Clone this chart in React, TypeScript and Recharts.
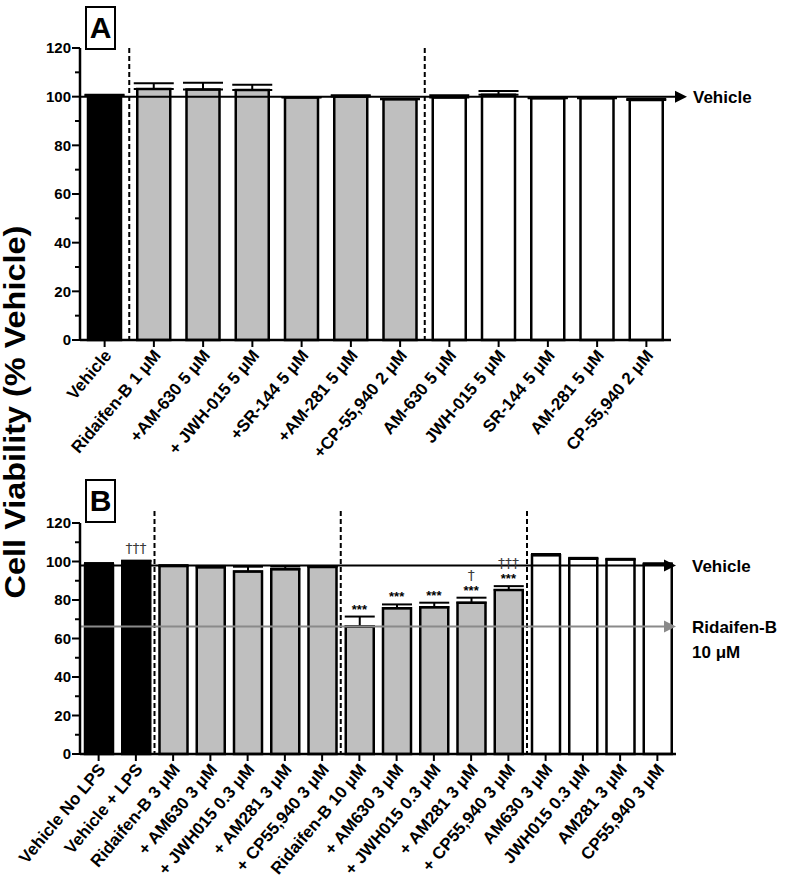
import React from 'react';
import { BarChart, Bar, XAxis, YAxis, Cell, ErrorBar, ReferenceLine, ReferenceDot } from 'recharts';

// ---------- Panel A data ----------
const labelsA = [
  'Vehicle', 'Ridaifen-B 1 μM', '+AM-630 5 μM', '+ JWH-015 5 μM', '+SR-144 5 μM', '+AM-281 5 μM',
  '+CP-55,940 2 μM', 'AM-630 5 μM', 'JWH-015 5 μM', 'SR-144 5 μM', 'AM-281 5 μM', 'CP-55,940 2 μM',
];
const meansA = [100.5, 103.2, 102.9, 102.7, 99.7, 100.1, 98.9, 99.7, 100.8, 99.3, 99.3, 98.6];
const errsA = [0.3, 2.3, 2.8, 2.2, 0.2, 0.5, 0.2, 0.9, 1.5, 0.2, 0.2, 0.5];
const groupsA = [0, 1, 1, 1, 1, 1, 1, 2, 2, 2, 2, 2];
const dividersA = [1, 7];
const vehicleLineA = 100;

// ---------- Panel B data ----------
const labelsB = [
  'Vehicle No LPS', 'Vehicle + LPS', 'Ridaifen-B 3 μM', '+ AM630 3 μM', '+ JWH015 0.3 μM', '+ AM281 3 μM',
  '+ CP55,940 3 μM', 'Ridaifen-B 10 μM', '+ AM630 3 μM', '+ JWH015 0.3 μM', '+ AM281 3 μM', '+ CP55,940 3 μM',
  'AM630 3 μM', 'JWH015 0.3 μM', 'AM281 3 μM', 'CP55,940 3 μM',
];
const meansB = [98.3, 100.3, 97.6, 97.0, 94.8, 96.0, 97.2, 66.2, 75.7, 76.2, 78.6, 85.2, 103.3, 101.4, 101.0, 98.4];
const errsB = [0.9, 0, 0.5, 0.7, 2.5, 1.4, 0.4, 5.2, 2.0, 2.4, 2.6, 2.0, 0.6, 0.5, 0.4, 0.7];
const groupsB = [0, 0, 1, 1, 1, 1, 1, 1, 1, 1, 1, 1, 2, 2, 2, 2];
const starsB = ['', '', '', '', '', '', '', '***', '***', '***', '***', '***', '', '', '', ''];
const daggersB = ['', '†††', '', '', '', '', '', '', '', '', '†', '†††', '', '', '', ''];
const dividersB = [2, 7, 12];
const vehicleLineB = 97.9;
const ridaifenLineB = 66.2;

const yTicks = [0, 10, 20, 30, 40, 50, 60, 70, 80, 90, 100, 110, 120];

const fills = ['#000000', '#bfbfbf', '#ffffff'];
const FONT = '"Liberation Sans", Arial, Helvetica, sans-serif';
const SYM_FONT = '"DejaVu Sans", "Liberation Sans", sans-serif';
const AXIS_X = 80;

const dataA = labelsA.map((_, i) => ({ id: i, v: meansA[i], e: [0, errsA[i]], g: groupsA[i] }));
const dataB = labelsB.map((_, i) => ({ id: i, v: meansB[i], e: [0, errsB[i]], g: groupsB[i] }));

const YTick = (props: any) => {
  const { y, payload } = props;
  const major = payload.value % 20 === 0;
  return (
    <g>
      <line x1={AXIS_X - (major ? 8 : 5)} x2={AXIS_X} y1={y} y2={y} stroke="#000" strokeWidth={2} />
      {major && (
        <text x={AXIS_X - 9} y={y} dy="0.36em" textAnchor="end" fontSize={15} fontWeight="bold" fontFamily={FONT} fill="#000">
          {payload.value}
        </text>
      )}
    </g>
  );
};

const makeXTick = (labels: string[]) => (props: any) => {
  const { x, y, payload } = props;
  return (
    <g transform={`translate(${x + 3},${y + 3}) rotate(-50)`}>
      <text x={0} y={0} dy="0.36em" textAnchor="end" fontSize={17} fontWeight="bold" fontFamily={FONT} fill="#000">
        {labels[payload.value]}
      </text>
    </g>
  );
};

const arrowShape = (ext: number, gap: number, color: string, lines: string[]) => (p: any) => {
  const xs = Math.min(p.x1, p.x2);
  const xe = Math.max(p.x1, p.x2) + ext;
  const y = p.y1;
  return (
    <g>
      <line x1={xs} x2={xe - 10} y1={y} y2={y} stroke={color} strokeWidth={2} />
      <polygon points={`${xe},${y} ${xe - 12},${y - 6} ${xe - 12},${y + 6}`} fill={color} />
      {lines.map((t, i) => (
        <text key={i} x={xe + gap} y={y + i * 25} dy="0.36em" fontSize={17} fontWeight="bold" fontFamily={FONT} fill="#000">
          {t}
        </text>
      ))}
    </g>
  );
};

const dashShape = (ext: number) => (p: any) => (
  <line
    x1={p.x1}
    x2={p.x2}
    y1={Math.min(p.y1, p.y2) - ext}
    y2={Math.max(p.y1, p.y2)}
    stroke="#000"
    strokeWidth={2}
    strokeDasharray="5 3"
  />
);

const starShape = (p: any) => (
  <text x={p.cx} y={p.cy - 3} textAnchor="middle" fontSize={13} fontWeight="bold" fontFamily={FONT} fill="#000">
    ***
  </text>
);

const daggerShape = (text: string, withStars: boolean) => (p: any) => (
  <text
    x={p.cx}
    y={p.cy - (withStars ? 18 : 8)}
    textAnchor="middle"
    fontSize={14}
    fontFamily={SYM_FONT}
    fill="#3a3a3a"
    style={{ WebkitFontSmoothing: 'antialiased' }}
  >
    {text}
  </text>
);

const PanelBox = ({ letter, top }: { letter: string; top: number }) => (
  <div
    style={{
      position: 'absolute', left: 85, top, width: 31, height: 44, boxSizing: 'border-box',
      border: '2.5px solid #000', fontFamily: FONT, fontWeight: 'bold', fontSize: 30,
      display: 'flex', alignItems: 'center', justifyContent: 'center', background: '#fff',
    }}
  >
    {letter}
  </div>
);

const XTickA = makeXTick(labelsA);
const XTickB = makeXTick(labelsB);

export default function App() {
  return (
    <div style={{ position: 'absolute', left: 0, top: 0, width: 800, height: 880, background: '#fff', fontFamily: FONT }}>
      <svg style={{ position: 'absolute', left: 0, top: 0 }} width={50} height={880}>
        <text transform="translate(25,412) rotate(-90) scale(1.12,1)" textAnchor="middle" fontSize={29} fontWeight="bold" fontFamily={FONT} fill="#000">
          Cell Viability (% Vehicle)
        </text>
      </svg>

      <div style={{ position: 'absolute', left: 0, top: 0 }}>
        <BarChart width={800} height={470} data={dataA} margin={{ top: 48, right: 129, left: 20, bottom: 0 }}>
          <XAxis
            dataKey="id" type="category" interval={0} height={130}
            axisLine={{ stroke: '#000', strokeWidth: 2.5 }}
            tickLine={{ stroke: '#000', strokeWidth: 2 }} tickSize={7}
            tick={XTickA}
          />
          <YAxis
            width={60} domain={[0, 120]} ticks={yTicks} interval={0}
            axisLine={{ stroke: '#000', strokeWidth: 2.5 }} tickLine={false} tick={YTick}
          />
          <Bar dataKey="v" barSize={33} isAnimationActive={false} stroke="#000" strokeWidth={2.5}>
            {dataA.map((d) => <Cell key={d.id} fill={fills[d.g]} />)}
            <ErrorBar dataKey="e" direction="y" width={20} stroke="#000" strokeWidth={2} isAnimationActive={false} />
          </Bar>
          {dividersA.map((c) => (
            <ReferenceLine key={c} x={c} position="start" shape={dashShape(0)} />
          ))}
          <ReferenceLine y={vehicleLineA} shape={arrowShape(16, 6, '#000', ['Vehicle'])} />
        </BarChart>
      </div>

      <div style={{ position: 'absolute', left: 0, top: 470 }}>
        <BarChart width={800} height={410} data={dataB} margin={{ top: 53, right: 124, left: 20, bottom: 0 }}>
          <XAxis
            dataKey="id" type="category" interval={0} height={126}
            axisLine={{ stroke: '#000', strokeWidth: 2.5 }}
            tickLine={{ stroke: '#000', strokeWidth: 2 }} tickSize={7}
            tick={XTickB}
          />
          <YAxis
            width={60} domain={[0, 120]} ticks={yTicks} interval={0}
            axisLine={{ stroke: '#000', strokeWidth: 2.5 }} tickLine={false} tick={YTick}
          />
          <Bar dataKey="v" barSize={28} isAnimationActive={false} stroke="#000" strokeWidth={2.5}>
            {dataB.map((d) => <Cell key={d.id} fill={fills[d.g]} />)}
            <ErrorBar dataKey="e" direction="y" width={15} stroke="#000" strokeWidth={2} isAnimationActive={false} />
          </Bar>
          {dividersB.map((c) => (
            <ReferenceLine key={c} x={c} position="start" shape={dashShape(12)} />
          ))}
          <ReferenceLine y={vehicleLineB} shape={arrowShape(0, 16, '#000', ['Vehicle'])} />
          <ReferenceLine y={ridaifenLineB} shape={arrowShape(0, 16, '#8a8a8a', ['Ridaifen-B', '10 μM'])} />
          {starsB.map((s, i) =>
            s ? (
              <ReferenceDot
                key={'s' + i} x={i} y={meansB[i] + errsB[i]} r={1} ifOverflow="visible"
                shape={starShape}
              />
            ) : null
          )}
          {daggersB.map((s, i) =>
            s ? (
              <ReferenceDot
                key={'d' + i} x={i} y={meansB[i] + errsB[i]} r={1} ifOverflow="visible"
                shape={daggerShape(s, !!starsB[i])}
              />
            ) : null
          )}
        </BarChart>
      </div>

      <PanelBox letter="A" top={6} />
      <PanelBox letter="B" top={479} />
    </div>
  );
}
